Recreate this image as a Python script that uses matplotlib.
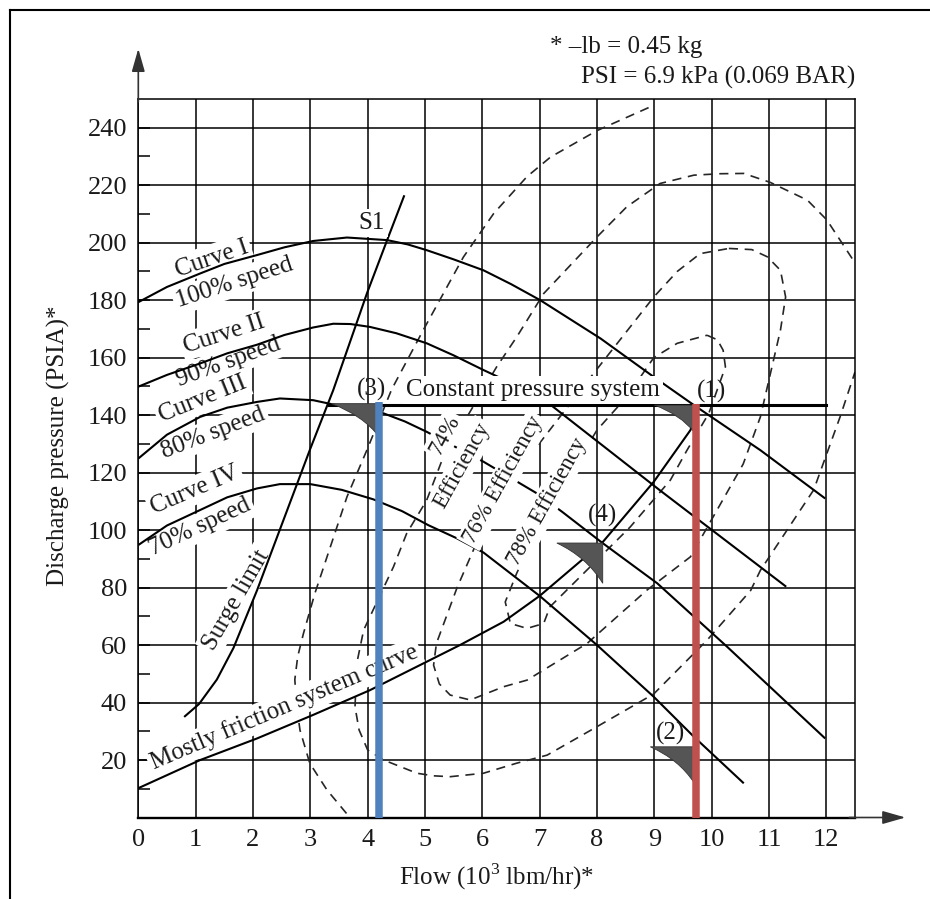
import matplotlib
matplotlib.use("Agg")
import matplotlib.pyplot as plt
from matplotlib.path import Path
from matplotlib.patches import PathPatch
from matplotlib.lines import Line2D

# ── data ──────────────────────────────────────────────────────────────────────
flow_ticks = list(range(0, 13))
pressure_ticks = list(range(20, 241, 20))
pressure_minor = list(range(10, 240, 20))

# compressor characteristics at four speeds
curve1_x = [0.0, 0.5, 1.08, 1.5, 2.07, 2.55, 3.05, 3.64, 4.34, 4.7, 5.03, 5.5, 6.02, 6.5, 7.01, 8.06, 8.99,
            9.69, 10.85, 11.98]
curve1_y = [179.3, 184.6, 189.3, 192.6, 195.7, 198.4, 200.6, 201.8, 200.9, 199.4, 197.4, 194.2, 190.4, 185.6,
            180.0, 166.7, 153.3, 143.5, 127.8, 111.0]
curve2_x = [0.0, 0.5, 1.08, 1.55, 2.07, 2.55, 3.05, 3.4, 3.7, 4.04, 4.5, 5.03, 5.5, 6.02, 6.49, 7.19, 9.1, 11.3]
curve2_y = [149.9, 154.0, 158.0, 161.5, 164.5, 167.9, 170.5, 171.8, 171.7, 170.7, 168.5, 165.0, 160.8, 155.7,
            151.3, 143.6, 113.8, 80.3]
curve3_x = [0.0, 0.5, 1.08, 1.55, 2.07, 2.47, 3.05, 3.4, 3.8, 4.28, 4.65, 5.03, 6.02, 6.95, 7.39, 8.09, 9.05,
            10.27, 11.98]
curve3_y = [124.9, 133.2, 139.4, 142.6, 144.6, 145.8, 145.2, 143.7, 142.4, 140.6, 137.8, 134.2, 123.8, 112.8,
            106.4, 95.6, 81.5, 59.4, 27.5]
curve4_x = [0.0, 0.5, 1.08, 1.55, 2.07, 2.47, 3.0, 3.55, 4.1, 4.6, 5.06, 5.55, 6.02, 7.0, 8.0, 8.99, 9.69,
            10.56]
curve4_y = [94.8, 101.6, 107.0, 111.4, 114.5, 116.0, 116.0, 114.0, 110.7, 106.6, 101.7, 97.2, 92.2, 77.1,
            60.0, 42.0, 28.1, 11.9]

surge_x = [0.8, 1.06, 1.37, 1.66, 2.07, 2.99, 3.4, 3.99, 4.34, 4.64]
surge_y = [35.0, 39.5, 48.0, 59.0, 79.0, 127.8, 148.7, 182.5, 200.9, 216.5]

friction_x = [0.0, 1.08, 2.07, 3.05, 4.04, 5.03, 5.61, 6.37, 7.0, 8.09, 8.99, 9.63, 9.7]
friction_y = [10.2, 20.0, 27.5, 35.7, 44.3, 54.2, 60.0, 68.1, 77.1, 95.6, 116.8, 134.8, 139.0]

constant_p = 143.5
constant_x = [3.32, 12.0]

# efficiency islands (dashed)
eff1_x = [8.9, 8.0, 7.19, 6.78, 6.2, 5.67, 4.97, 4.42, 3.99, 3.64, 3.35, 3.08, 2.88, 2.78, 2.73, 2.76, 2.82,
          2.99, 3.29, 3.69]
eff1_y = [247, 239, 229.8, 223, 210.2, 195, 169.6, 149, 128, 111.6, 94.2, 78, 64, 56, 48, 39, 30.4,
          18.9, 9.6, 0]
eff2_x = [12.45, 12.01, 11.67, 11.02, 10.56, 10.15, 9.69, 9.1, 8.52, 8.0, 7.07, 6.6, 6.25, 5.32, 5.03, 4.68,
          4.45, 3.93, 3.81, 3.78, 3.85, 4.0, 4.28, 4.86, 5.15, 5.44, 6.02, 6.6, 7.13, 8.0, 8.99, 9.92, 10.68,
          10.85, 11.78, 12.24, 12.5]
eff2_y = [194.5, 207.9, 214.8, 221, 224.1, 224, 223.5, 220.6, 212.5, 202, 182.3, 167.2, 156.8, 125.5, 110.4,
          98.8, 87.2, 65.2, 53.6, 38.5, 30.5, 23.5, 20, 15.4, 14.5, 14.2, 15.4, 18.9, 21.7, 31.6, 43, 61.7, 79,
          86, 114, 139.4, 155]
eff3_x = [10.3, 10.7, 10.97, 11.2, 11.29, 11.2, 10.85, 10.55, 9.63, 8.87, 7.83, 6.78, 6.37, 5.79, 5.44, 5.25,
          5.15, 5.2, 5.56, 6.02, 6.49, 6.95, 7.94, 8.99, 9.4, 9.8, 10.3]
eff3_y = [198, 197.6, 195.1, 190.4, 181.1, 169.6, 139.4, 123, 90.7, 79.1, 60.6, 47.8, 45.5, 40.9, 42.6, 46.5,
          53, 60.6, 80, 101.1, 118.5, 129, 154.5, 181.1, 190, 196.2, 198]
eff4_x = [9.92, 10.1, 10.2, 10.24, 9.95, 9.57, 9.28, 8.58, 7.88, 7.18, 7.07, 6.78, 6.49, 6.4, 6.6, 7.01, 8.0,
          8.52, 8.99, 9.4, 9.92]
eff4_y = [167.8, 166.2, 162.6, 156.8, 140.6, 127.8, 117.4, 101.1, 87.2, 73.3, 67.5, 65.8, 67.5, 75, 85, 102.3,
          134.8, 146.4, 160, 165, 167.8]

# operating points (corner of shaded wedge) and their labels
op_labels = ["(1)", "(2)", "(3)", "(4)"]
op_x = [9.7, 9.7, 4.2, 8.1]
op_y = [143.5, 24.6, 144.0, 95.5]
op_w = [0.7, 0.77, 0.83, 0.8]
op_h = [9.5, 12.7, 11.5, 14.0]
op_label_x = [10.0, 9.29, 4.06, 8.1]
op_label_y = [148.1, 29.3, 149.0, 105.2]

# highlighted flows
blue_flow, blue_top = 4.2, 144.5
red_flow, red_top = 9.72, 144.0

# curve labels
speed_text = ["Curve I", "100% speed", "Curve II", "90% speed",
              "Curve III", "80% speed", "Curve IV", "70% speed"]
speed_x = [1.28, 1.68, 1.5, 1.58, 1.12, 1.31, 0.99, 1.08]
speed_y = [194.5, 186.0, 168.2, 158.6, 145.5, 133.8, 113.9, 101.0]
speed_rot = [19, 18, 18, 20, 22, 21, 23, 25]

eff_text = ["74%", "Efficiency", "76% Efficiency", "78% Efficiency"]
eff_x = [5.35, 5.65, 6.37, 7.13]
eff_y = [133.0, 122.6, 117.4, 110.0]

TXT = "#1a1a1a"

# ── figure ────────────────────────────────────────────────────────────────────
plt.rcParams.update({
    "font.family": "Liberation Serif",
    "font.size": 18,
    "mathtext.fontset": "custom",
    "mathtext.rm": "Liberation Serif",
})

fig = plt.figure(figsize=(9.3, 8.99), dpi=100)
ax = fig.add_axes([138.3 / 930, 81.5 / 899, 716.7 / 930, 718.5 / 899])
ax.set_xlim(0, 12.5)
ax.set_ylim(0, 250)

ax.set_xticks(flow_ticks)
ax.set_yticks(pressure_ticks)
ax.set_yticks(pressure_minor, minor=True)
ax.set_axisbelow(True)
ax.grid(which="major", color="black", linewidth=1.1)
ax.tick_params(axis="x", length=0, pad=8, labelsize=19, colors=TXT)
ax.tick_params(axis="y", which="both", direction="in", length=8.5, width=1.1,
               pad=8, labelsize=19, colors=TXT)
ax.tick_params(axis="y", which="both", color="black")
for s in ax.spines.values():
    s.set_linewidth(1.1)
ax.spines["bottom"].set_linewidth(1.7)

# axis arrows
arrow = dict(arrowstyle="-|>,head_length=0.7,head_width=0.2", color="#333333",
             lw=1.2, mutation_scale=20, shrinkA=0, shrinkB=0)
ax.annotate("", xy=(0, 267.5), xytext=(0, 249), arrowprops=arrow, annotation_clip=False)
ax.annotate("", xy=(13.38, 0), xytext=(12.4, 0), arrowprops=arrow, annotation_clip=False)

# dashed efficiency contours
for xs, ys in [(eff1_x, eff1_y), (eff2_x, eff2_y), (eff3_x, eff3_y), (eff4_x, eff4_y)]:
    ax.plot(xs, ys, color="#262626", lw=1.2, dashes=(5.5, 4), zorder=2,
            solid_joinstyle="round", dash_joinstyle="round")

# solid curves
for xs, ys in [(curve1_x, curve1_y), (curve2_x, curve2_y), (curve3_x, curve3_y),
               (curve4_x, curve4_y), (surge_x, surge_y), (friction_x, friction_y)]:
    ax.plot(xs, ys, color="black", lw=1.5, zorder=3, solid_capstyle="butt",
            solid_joinstyle="round")

ax.plot(constant_x, [constant_p, constant_p], color="black", lw=2.2, zorder=3)


def label(x, y, s, rot=0, size=18, z=2.5):
    ax.text(x, y, s, rotation=rot, rotation_mode="anchor", ha="center", va="center",
            fontsize=size, color=TXT, zorder=z,
            bbox=dict(boxstyle="square,pad=0.12", fc="white", ec="none"))


for s, x, y, r in zip(speed_text, speed_x, speed_y, speed_rot):
    label(x, y, s, r)

label(1.71, 75.7, "Surge limit", 60)
label(2.55, 38.5, "Mostly friction system curve", 23)
label(4.07, 207.0, "S1", 0, z=3.5)
label(6.89, 148.7, "Constant pressure system", 0, z=3.5)
for s, x, y in zip(eff_text, eff_x, eff_y):
    label(x, y, s, 61, size=16.5, z=3.5)

# shaded wedges at the operating points
for cx, cy, w, h in zip(op_x, op_y, op_w, op_h):
    verts = [(cx - w, cy), (cx, cy), (cx, cy - h),
             (cx - 0.35 * w, cy - 0.35 * h), (cx - w, cy), (cx - w, cy)]
    codes = [Path.MOVETO, Path.LINETO, Path.LINETO, Path.CURVE3, Path.CURVE3, Path.CLOSEPOLY]
    ax.add_patch(PathPatch(Path(verts, codes), fc="#555555", ec="#333333", lw=0.6, zorder=4))

for s, x, y in zip(op_labels, op_label_x, op_label_y):
    ax.text(x, y, s, ha="center", va="center", fontsize=18, color=TXT, zorder=4)

# highlighted flows
ax.vlines(blue_flow, 0, blue_top, color="#4f81bd", lw=5.4, zorder=5)
ax.vlines(red_flow, 0, red_top, color="#c0504d", lw=5.4, zorder=5)

# axis titles and unit note
ax.text(0.5, -0.083, "Flow (10$^{3}$ lbm/hr)*", transform=ax.transAxes,
        ha="center", va="center", fontsize=18, color=TXT)
ax.text(-0.111, 0.518, "Discharge pressure (PSIA)*", transform=ax.transAxes,
        ha="center", va="center", rotation=90, fontsize=18, color=TXT)
ax.text(7.18, 268.0, "* \u2013lb = 0.45 kg", ha="left", va="center", fontsize=18, color=TXT)
ax.text(12.5, 257.5, "PSI = 6.9 kPa (0.069 BAR)", ha="right", va="center", fontsize=18, color=TXT)

# frame of the original figure panel
fig.add_artist(Line2D([10 / 930, 1], [1 - 10 / 899, 1 - 10 / 899],
                      transform=fig.transFigure, color="black", lw=1.5))
fig.add_artist(Line2D([10 / 930, 10 / 930], [0, 1 - 10 / 899],
                      transform=fig.transFigure, color="black", lw=1.5))

fig.savefig("out.png", dpi=100)
